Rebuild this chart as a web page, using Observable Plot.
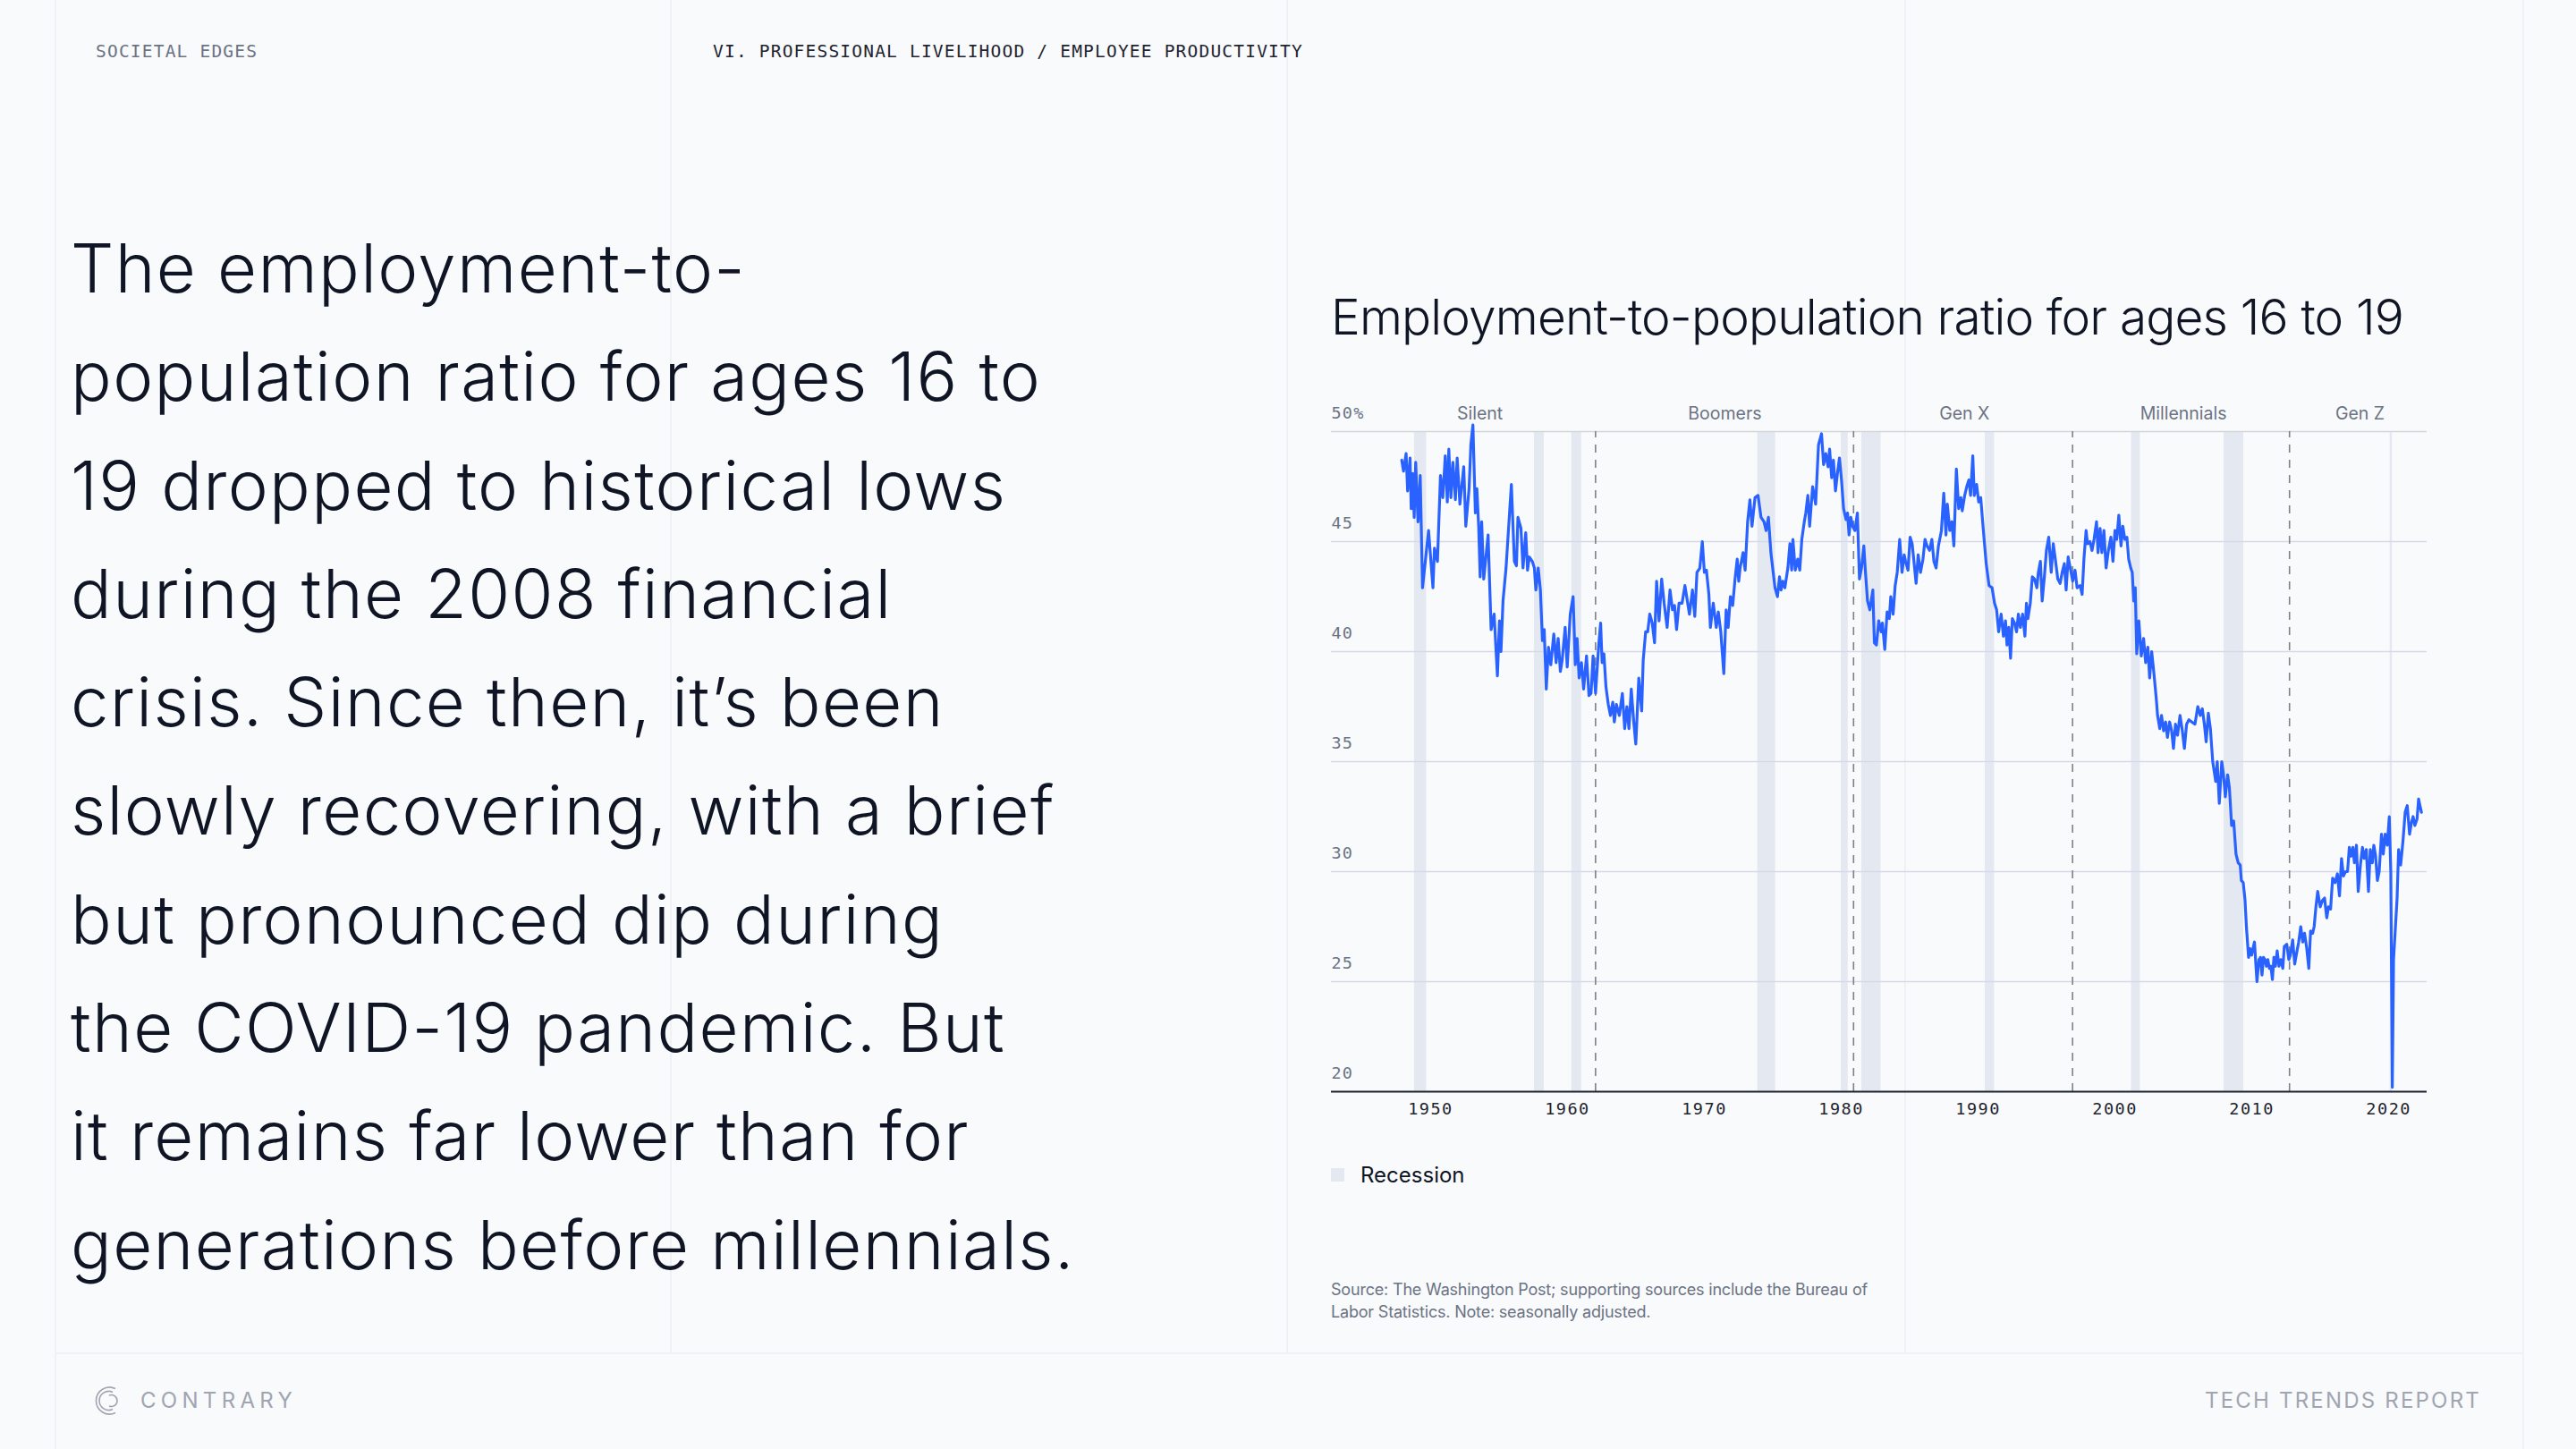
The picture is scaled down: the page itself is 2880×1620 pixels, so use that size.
<!DOCTYPE html>
<html>
<head>
<meta charset="utf-8">
<script src="https://cdn.jsdelivr.net/npm/d3@7"></script>
<script src="https://cdn.jsdelivr.net/npm/@observablehq/plot@0.6"></script>
<style>
  html, body { margin: 0; padding: 0; }
  body { width: 2880px; height: 1620px; background: #f9fafb; position: relative; overflow: hidden; font-family: Inter, "Noto Sans", sans-serif; }
  .vline { position: absolute; top: 0; width: 1.5px; background: #eff1f4; }
  .hline { position: absolute; height: 1.5px; background: #eff1f4; }
  .mono { position: absolute; font-family: "DejaVu Sans Mono", monospace; font-size: 19.5px; letter-spacing: 1.2px; line-height: 20px; white-space: nowrap; }
  .para { position: absolute; left: 79px; top: 239px; font-size: 76px; font-weight: 300; line-height: 121.3px; color: #0f1525; white-space: nowrap; }
  .para span { display: inline-block; }
  .title { position: absolute; left: 1488px; top: 327px; font-size: 55px; font-weight: 300; line-height: 55px; color: #0f1525; white-space: nowrap; }
  #chart { position: absolute; left: 1440px; top: 420px; }
  .legend { position: absolute; left: 1488px; top: 1299px; display: flex; align-items: center; font-size: 24px; color: #0f1525; }
  .legend .sw { width: 15px; height: 15px; background: #e4e8f0; margin-right: 18px; }
  .source { position: absolute; left: 1488px; top: 1429px; font-size: 18px; line-height: 25px; color: #6b7384; white-space: nowrap; }
  .foot { position: absolute; top: 1552px; font-size: 24px; line-height: 28px; color: #a0a5b1; white-space: nowrap; }
</style>
</head>
<body>
<div class="vline" style="left:61px;height:1620px"></div>
<div class="vline" style="left:749px;height:1512px"></div>
<div class="vline" style="left:1438px;height:1512px"></div>
<div class="vline" style="left:2129px;height:1512px"></div>
<div class="vline" style="left:2820px;height:1620px"></div>
<div class="hline" style="left:61px;width:2760px;top:1512px"></div>

<div class="mono" style="left:107px;top:48px;color:#6b7384">SOCIETAL EDGES</div>
<div class="mono" style="left:797px;top:48px;color:#1f2430">VI. PROFESSIONAL LIVELIHOOD / EMPLOYEE PRODUCTIVITY</div>

<div class="para" id="para"></div>

<div class="title" id="title"><span id="titleText">Employment-to-population ratio for ages 16 to 19</span></div>
<div id="chart"></div>
<div class="legend"><div class="sw"></div><span>Recession</span></div>
<div class="source"><span id="src1">Source: The Washington Post; supporting sources include the Bureau of</span><br><span>Labor Statistics. Note: seasonally adjusted.</span></div>

<svg style="position:absolute;left:105px;top:1548px" width="36" height="36" viewBox="0 0 36 36">
  <g fill="none" stroke="#a0a5b1" stroke-width="1.6">
    <path d="M24 4.5 A15 15 0 1 0 24 31.5"/>
    <path d="M21 8.5 A10.5 10.5 0 1 0 21 27.5"/>
    <path d="M17 12 A6.5 6.5 0 1 1 17 24"/>
  </g>
</svg>
<div class="foot" style="left:157px"><span id="f1" style="display:inline-block">CONTRARY</span></div>
<div class="foot" style="right:106px"><span id="f2" style="display:inline-block">TECH TRENDS REPORT</span></div>

<script>
const paragraphLines = [
  "The employment-to-",
  "population ratio for ages 16 to",
  "19 dropped to historical lows",
  "during the 2008 financial",
  "crisis. Since then, it’s been",
  "slowly recovering, with a brief",
  "but pronounced dip during",
  "the COVID-19 pandemic. But",
  "it remains far lower than for",
  "generations before millennials."
];

const xTicks = [1950, 1960, 1970, 1980, 1990, 2000, 2010, 2020];
const yTicks = [20, 25, 30, 35, 40, 45, 50];

const generations = [["Silent", 1953.6], ["Boomers", 1971.5], ["Gen X", 1989], ["Millennials", 2005], ["Gen Z", 2017.9]];
const generationStarts = [1962.05, 1980.9, 1996.9, 2012.75];

const recessions = [
  [1948.82, 1949.7], [1957.58, 1958.3], [1960.31, 1961.03], [1973.9, 1975.2], [1980.0, 1980.5],
  [1981.5, 1982.9], [1990.52, 1991.2], [2001.2, 2001.85], [2007.97, 2009.4], [2020.1, 2020.26]
];

// [year, employment-to-population ratio %]
const series = [
[1947.89,48.7],[1948.02,48.2],[1948.21,49.0],[1948.32,47.3],[1948.50,48.8],[1948.58,46.5],[1948.69,48.1],[1948.80,46.1],[1948.91,48.6],[1949.08,45.9],
[1949.24,48.0],[1949.41,42.9],[1949.85,45.5],[1950.17,42.9],[1950.28,44.7],[1950.50,44.1],[1950.72,48.0],[1950.89,47.0],[1951.07,48.9],[1951.22,46.8],
[1951.33,49.2],[1951.48,47.0],[1951.63,48.6],[1951.81,46.9],[1951.94,48.8],[1952.14,46.7],[1952.42,48.4],[1952.57,45.7],[1952.81,47.4],[1952.94,49.4],
[1953.09,50.3],[1953.27,46.3],[1953.38,47.4],[1953.51,45.7],[1953.62,43.4],[1953.73,45.9],[1953.88,43.3],[1954.20,45.3],[1954.42,41.0],[1954.64,41.7],
[1954.88,38.9],[1955.03,41.4],[1955.14,40.0],[1955.29,42.3],[1955.51,43.8],[1955.90,47.6],[1956.12,44.1],[1956.27,43.9],[1956.38,46.1],[1956.60,45.6],
[1956.75,43.8],[1956.95,45.4],[1957.08,43.7],[1957.21,44.3],[1957.43,44.1],[1957.58,43.8],[1957.69,42.8],[1957.86,43.8],[1958.02,42.8],[1958.17,40.5],
[1958.30,41.0],[1958.45,38.3],[1958.61,40.2],[1958.78,39.4],[1959.00,40.8],[1959.17,39.5],[1959.32,40.6],[1959.48,39.1],[1959.61,39.6],[1959.83,41.1],
[1959.98,39.3],[1960.20,41.7],[1960.41,42.5],[1960.57,39.4],[1960.70,40.6],[1960.85,38.8],[1961.02,39.5],[1961.18,38.3],[1961.39,39.8],[1961.57,38.0],
[1961.72,38.1],[1961.87,39.8],[1962.05,38.1],[1962.27,40.2],[1962.42,41.3],[1962.53,39.5],[1962.66,39.9],[1962.81,38.4],[1962.98,37.6],[1963.14,37.1],
[1963.31,37.7],[1963.42,36.8],[1963.57,37.6],[1963.79,37.1],[1964.01,38.1],[1964.18,36.5],[1964.34,37.5],[1964.49,36.5],[1964.66,38.3],[1964.84,36.8],
[1964.99,35.8],[1965.21,38.8],[1965.42,37.3],[1965.53,39.6],[1965.71,40.9],[1965.86,40.9],[1966.01,41.7],[1966.19,41.3],[1966.36,40.4],[1966.51,43.2],
[1966.69,41.4],[1966.88,43.3],[1967.06,42.2],[1967.28,41.1],[1967.49,42.8],[1967.67,41.9],[1967.82,42.1],[1967.97,41.0],[1968.15,42.2],[1968.37,42.2],
[1968.58,43.0],[1968.91,41.7],[1969.13,42.8],[1969.30,41.6],[1969.46,43.6],[1969.67,43.8],[1969.85,45.0],[1970.00,43.6],[1970.15,43.7],[1970.33,42.6],
[1970.44,41.1],[1970.65,42.2],[1970.87,41.1],[1971.02,41.8],[1971.20,40.9],[1971.42,39.0],[1971.59,41.9],[1971.74,41.1],[1971.90,42.5],[1972.07,42.1],
[1972.24,43.3],[1972.40,44.2],[1972.51,43.2],[1972.61,43.8],[1972.83,44.5],[1972.98,43.7],
[1973.16,45.9],[1973.33,46.9],[1973.48,45.7],[1973.70,47.0],[1973.92,47.1],[1974.14,46.1],[1974.36,45.9],[1974.51,45.5],[1974.68,46.1],[1974.86,44.5],
[1975.01,43.7],[1975.16,42.9],[1975.34,42.5],[1975.49,43.4],[1975.60,42.8],[1975.73,43.2],[1975.88,42.9],[1976.10,43.8],[1976.25,44.9],[1976.38,43.7],
[1976.47,45.1],[1976.64,43.7],[1976.82,44.2],[1976.97,43.7],[1977.12,45.1],[1977.30,45.9],[1977.41,46.3],[1977.56,47.1],[1977.69,45.7],[1977.91,47.5],
[1978.13,46.7],[1978.34,49.4],[1978.56,49.9],[1978.71,48.5],[1978.87,49.0],[1979.04,48.4],[1979.15,49.2],[1979.30,47.9],[1979.43,48.7],[1979.58,47.3],
[1979.74,48.2],[1979.87,48.8],[1980.02,47.8],[1980.17,46.5],[1980.35,46.0],[1980.46,46.3],[1980.57,45.3],[1980.70,46.1],[1980.83,45.7],[1981.00,45.5],
[1981.18,46.3],[1981.33,43.3],[1981.48,43.8],[1981.65,44.8],[1981.76,43.7],[1981.92,42.3],[1982.09,41.9],[1982.31,42.8],[1982.42,40.4],[1982.57,40.3],
[1982.74,41.4],[1982.92,40.9],[1983.01,41.3],[1983.18,40.1],[1983.35,41.8],[1983.51,41.5],[1983.62,42.5],[1983.79,41.7],[1983.94,43.0],[1984.09,43.6],
[1984.27,45.1],[1984.44,43.6],[1984.60,44.4],[1984.70,44.1],[1984.88,43.7],[1985.03,45.2],[1985.18,44.9],[1985.31,44.1],[1985.47,43.1],[1985.62,44.4],
[1985.79,43.6],[1985.97,44.2],[1986.12,45.1],[1986.27,44.8],[1986.45,44.6],[1986.62,45.1],[1986.77,44.1],[1986.93,43.8],[1987.10,44.8],[1987.32,45.5],
[1987.49,47.2],[1987.65,45.3],[1987.75,46.7],[1987.93,45.5],[1988.08,45.9],[1988.23,44.8],[1988.41,48.3],[1988.58,46.5],[1988.74,47.0],[1988.84,46.4],
[1989.02,47.1],[1989.17,47.5],[1989.32,47.8],[1989.45,47.1],[1989.61,48.9],[1989.72,47.1],[1989.89,47.6],[1990.04,46.8],[1990.19,47.0],[1990.37,45.6],
[1990.59,44.0],[1990.80,43.0],[1991.02,42.9],[1991.20,42.2],[1991.35,41.9],[1991.50,40.9],[1991.68,41.7],[1991.85,40.7],[1992.00,41.4],[1992.11,40.3],
[1992.24,41.1],[1992.37,39.7],[1992.50,41.5],[1992.66,41.3],[1992.81,40.9],[1992.94,41.7],[1993.09,41.1],[1993.25,41.7],[1993.42,40.7],[1993.53,42.2],
[1993.64,41.5],[1993.81,42.2],[1993.96,43.4],[1994.12,43.3],[1994.29,42.9],[1994.40,43.6],[1994.55,44.1],[1994.68,42.3],[1994.84,43.4],[1994.99,44.6],
[1995.16,45.2],[1995.34,43.6],[1995.49,44.9],[1995.64,44.2],[1995.82,43.3],[1995.99,43.1],[1996.14,43.6],[1996.30,44.0],[1996.43,42.8],[1996.58,44.3],
[1996.73,43.8],[1996.91,43.2],[1997.08,43.7],[1997.23,42.9],[1997.45,43.0],[1997.60,42.6],[1997.73,44.2],[1997.89,45.5],[1997.99,44.9],[1998.17,45.0],
[1998.32,44.6],[1998.47,45.1],[1998.65,45.9],[1998.76,44.5],[1998.91,45.6],[1999.04,44.5],[1999.19,45.5],[1999.35,43.8],[1999.52,44.6],[1999.70,45.2],
[1999.85,44.1],[2000.00,45.5],[2000.13,45.1],[2000.28,46.2],[2000.44,44.8],[2000.57,45.7],[2000.72,45.1],[2000.87,45.2],[2001.00,44.2],[2001.15,43.8],
[2001.26,43.6],[2001.37,42.3],[2001.48,42.9],[2001.59,39.9],[2001.74,41.4],[2001.92,39.8],[2002.09,40.6],[2002.24,39.5],[2002.40,40.2],[2002.53,38.8],
[2002.68,40.0],[2002.83,39.1],[2003.01,37.9],[2003.11,37.1],[2003.27,36.5],[2003.40,37.1],[2003.55,36.4],[2003.70,36.8],[2003.83,36.1],[2003.99,36.8],
[2004.14,36.4],[2004.27,35.6],[2004.42,36.7],[2004.57,36.2],[2004.75,37.1],[2004.92,36.4],[2005.07,35.6],[2005.23,36.7],[2005.40,36.9],[2005.62,36.8],
[2005.84,36.7],[2006.05,37.5],[2006.23,37.1],[2006.38,37.4],[2006.53,36.7],[2006.66,35.9],[2006.82,37.2],[2006.97,36.5],[2007.14,35.0],[2007.36,34.1],
[2007.47,35.0],[2007.62,33.1],[2007.80,35.0],[2007.93,34.4],[2008.06,33.4],[2008.23,34.4],[2008.36,33.8],[2008.52,32.1],[2008.67,32.3],[2008.84,30.8],
[2009.00,30.4],[2009.15,30.3],[2009.23,29.6],[2009.37,29.5],[2009.50,28.7],[2009.60,27.5],[2009.76,26.1],[2009.87,26.5],[2009.98,26.2],[2010.08,26.5],
[2010.19,26.8],[2010.37,25.0],[2010.52,26.0],[2010.63,26.1],[2010.74,25.3],[2010.85,26.1],[2010.96,26.0],[2011.06,25.7],[2011.17,26.0],[2011.28,25.6],
[2011.39,25.7],[2011.50,25.1],[2011.61,26.1],[2011.72,25.7],[2011.85,26.4],[2011.98,25.7],[2012.11,26.0],[2012.26,25.6],[2012.37,26.6],[2012.55,26.7],
[2012.70,26.0],[2012.81,26.2],[2012.98,26.9],[2013.13,25.8],[2013.24,26.2],[2013.42,26.8],[2013.57,27.5],[2013.72,26.8],[2013.85,27.2],[2014.01,26.5],
[2014.16,25.6],[2014.29,27.3],[2014.44,27.2],[2014.55,27.5],[2014.68,28.4],[2014.81,29.1],[2014.99,28.4],[2015.16,28.7],[2015.31,28.8],[2015.47,27.9],
[2015.60,28.4],[2015.75,28.3],[2015.90,29.7],[2016.08,29.5],[2016.25,29.9],[2016.40,28.9],[2016.55,30.6],[2016.69,29.8],[2016.84,30.0],[2016.99,30.0],
[2017.12,31.1],[2017.25,30.7],[2017.38,31.1],[2017.49,30.4],[2017.64,31.2],[2017.77,29.1],[2017.93,30.3],[2018.08,31.1],[2018.21,30.6],[2018.36,31.0],
[2018.52,29.1],[2018.65,31.0],[2018.80,30.4],[2018.91,31.2],[2019.04,30.7],[2019.17,29.6],[2019.30,30.0],[2019.47,31.7],[2019.60,30.8],[2019.74,31.7],
[2019.89,31.2],[2020.04,32.5],[2020.15,30.0],[2020.26,20.2],[2020.35,26.0],[2020.61,28.8],[2020.72,31.0],[2020.87,30.3],[2021.04,31.4],[2021.20,32.7],
[2021.35,33.0],[2021.52,31.7],[2021.65,32.2],[2021.78,32.5],[2021.91,32.1],[2022.07,32.4],[2022.18,33.3],[2022.28,33.0],[2022.39,32.7]
];

// paragraph
const para = document.getElementById("para");
paragraphLines.forEach((t, i) => {
  if (i) para.appendChild(document.createElement("br"));
  const s = document.createElement("span");
  s.textContent = t;
  para.appendChild(s);
});

const tickFont = "'DejaVu Sans Mono', monospace";
const plot = Plot.plot({
  width: 1300,
  height: 870,
  marginLeft: 48,
  marginRight: 27,
  marginTop: 62,
  marginBottom: 70,
  x: { domain: [1942.75, 2022.8], axis: null },
  y: { domain: [20, 50], axis: null },
  style: { background: "transparent", overflow: "visible" },
  marks: [
    Plot.rect(recessions, { x1: d => d[0], x2: d => d[1], y1: 20, y2: 50, fill: "#e4e8f0" }),
    Plot.ruleY(yTicks, { stroke: d => d === 50 ? "#d3d5db" : "#d5d9e7", strokeWidth: 1.5 }),
    Plot.ruleX(generationStarts, { y1: 20, y2: 50, stroke: "#7d818c", strokeWidth: 1.6, strokeDasharray: "9,8" }),
    Plot.line(series, { x: d => d[0], y: d => d[1], stroke: "#2962ff", strokeWidth: 3.2, strokeLinejoin: "round" }),
    Plot.ruleY([20], { stroke: "#1f2430", strokeWidth: 2 }),
    Plot.text(xTicks, { x: d => d, y: 20, dy: 20, text: d => String(d), fill: "#1f2430", fontSize: 18.5, fontFamily: tickFont }),
    Plot.text(yTicks, { y: d => d, frameAnchor: "left", textAnchor: "start", dy: -20, text: d => d === 50 ? "50%" : String(d), fill: "#6b7384", fontSize: 18.5, fontFamily: tickFont }),
    Plot.text(generations, { x: d => d[1], y: 50, dy: -20, text: d => d[0], fill: "#6b7384", fontSize: 19.5, fontFamily: "Inter" })
  ]
});
document.getElementById("chart").appendChild(plot);
const textGroups = plot.querySelectorAll('g[aria-label="text"]');
textGroups[0].style.letterSpacing = "1.5px";
textGroups[1].style.letterSpacing = "1.2px";

// fit text widths to the reference layout
function lsFor(el, target) {
  el.style.letterSpacing = "0px";
  const w = el.getBoundingClientRect().width;
  const n = [...el.textContent].length;
  return (target - w) / n;
}
const spans = para.querySelectorAll("span");
const ls = (lsFor(spans[1], 1097) + lsFor(spans[9], 1111)) / 2;
spans.forEach(s => s.style.letterSpacing = ls + "px");
const tt = document.getElementById("titleText");
tt.style.display = "inline-block";
tt.style.letterSpacing = lsFor(tt, 1199) + "px";
const s1 = document.getElementById("src1");
s1.style.display = "inline-block";
const sls = lsFor(s1, 600);
document.querySelector(".source").style.letterSpacing = sls + "px";
s1.style.letterSpacing = sls + "px";
const f1 = document.getElementById("f1");
f1.style.letterSpacing = lsFor(f1, 175) + "px";
const f2 = document.getElementById("f2");
f2.style.letterSpacing = lsFor(f2, 309) + "px";
</script>
</body>
</html>
